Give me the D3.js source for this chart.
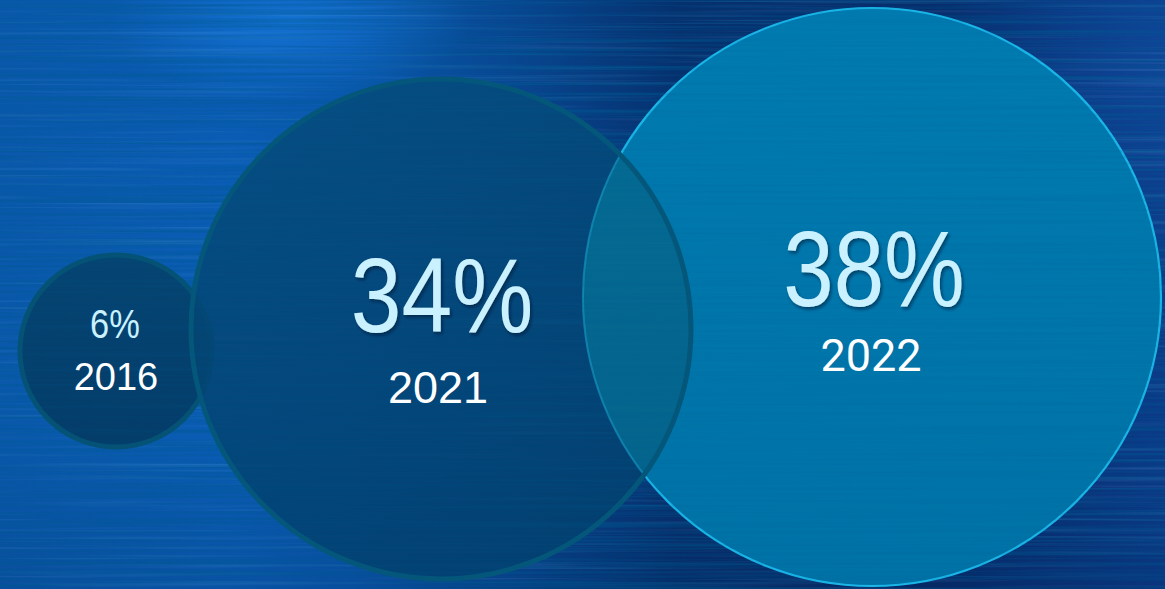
<!DOCTYPE html>
<html>
<head>
<meta charset="utf-8">
<script src="https://cdn.jsdelivr.net/npm/d3@7"></script>
<style>
  html, body { margin: 0; padding: 0; background: #0a4a98; overflow: hidden; }
  svg { display: block; }
</style>
</head>
<body>
<svg id="chart" width="1165" height="589"></svg>
<script>
// Share by year
const years = [2016, 2021, 2022];
const shares = [6, 34, 38];
const valueLabels = ["6%", "34%", "38%"];
const yearLabels = ["2016", "2021", "2022"];

const W = 1165, H = 589;
const svg = d3.select("#chart");
const defs = svg.append("defs");

// ---- scales ----
const rScale = d3.scaleLinear().domain([6, 34, 38]).range([96, 250, 289]);
const xScale = d3.scaleLinear().domain([2016, 2021, 2022]).range([116, 441, 872]);
const yScale = d3.scaleLinear().domain([2016, 2021, 2022]).range([351, 329, 297]);
const valueFont = d3.scaleLinear().domain([6, 34, 38]).range([41, 106, 108]);

const bubbles = years.map((y, i) => ({
  year: y, share: shares[i], vlabel: valueLabels[i], ylabel: yearLabels[i],
  cx: xScale(y), cy: yScale(y), r: rScale(shares[i])
}));
const byYear = Object.fromEntries(bubbles.map(d => [d.year, d]));

// label layout, relative to bubble centre
const labelLayout = {
  2016: { vdx: -1, vdy: -13, vsx: 0.84, ydx: 0, ydy: 39, ysize: 38, yfont: "'Liberation Sans', Arial, sans-serif" },
  2021: { vdx: 1, vdy: 3, vsx: 0.86, ydx: -3, ydy: 74, ysize: 45, yfont: "'Liberation Sans', Arial, sans-serif" },
  2022: { vdx: 2, vdy: 9, vsx: 0.84, ydx: -1, ydy: 74, ysize: 45, yfont: "Roboto, 'Liberation Sans', sans-serif" }
};

// ---- background: brushed blue metal ----
const bg = defs.append("linearGradient").attr("id", "bgGrad")
  .attr("x1", 0).attr("y1", 0).attr("x2", 1).attr("y2", 0);
[[0, "#0a58ab"], [0.2, "#0a5cb4"], [0.3, "#0a57ad"], [0.45, "#08458e"],
 [0.58, "#06316f"], [0.8, "#072d6c"], [1, "#0b3b88"]]
  .forEach(([o, c]) => bg.append("stop").attr("offset", o).attr("stop-color", c));

const glow = defs.append("radialGradient").attr("id", "glow")
  .attr("gradientUnits", "userSpaceOnUse")
  .attr("cx", 290).attr("cy", 20).attr("r", 180)
  .attr("gradientTransform", "translate(290,20) scale(1,0.45) translate(-290,-20)");
glow.append("stop").attr("offset", 0).attr("stop-color", "#1a80e6").attr("stop-opacity", 0.6);
glow.append("stop").attr("offset", 1).attr("stop-color", "#1a80e6").attr("stop-opacity", 0);

const glowR = defs.append("radialGradient").attr("id", "glowR")
  .attr("gradientUnits", "userSpaceOnUse")
  .attr("cx", 1165).attr("cy", 60).attr("r", 220);
glowR.append("stop").attr("offset", 0).attr("stop-color", "#1450a8").attr("stop-opacity", 0.5);
glowR.append("stop").attr("offset", 1).attr("stop-color", "#1450a8").attr("stop-opacity", 0);

const vshade = defs.append("linearGradient").attr("id", "vshade")
  .attr("x1", 0).attr("y1", 0).attr("x2", 0).attr("y2", 1);
vshade.append("stop").attr("offset", 0).attr("stop-color", "#000c30").attr("stop-opacity", 0);
vshade.append("stop").attr("offset", 0.75).attr("stop-color", "#000c30").attr("stop-opacity", 0);
vshade.append("stop").attr("offset", 1).attr("stop-color", "#000c30").attr("stop-opacity", 0.12);

// horizontal streak texture
function streakFilter(id, seed, freq, slope, intercept, color) {
  const f = defs.append("filter").attr("id", id)
    .attr("filterUnits", "userSpaceOnUse")
    .attr("x", 0).attr("y", 0).attr("width", W).attr("height", H);
  f.append("feTurbulence").attr("type", "fractalNoise")
    .attr("baseFrequency", freq).attr("numOctaves", 3).attr("seed", seed).attr("result", "n");
  const c = d3.color(color);
  f.append("feColorMatrix").attr("in", "n").attr("type", "matrix")
    .attr("values", `0 0 0 0 ${c.r / 255}  0 0 0 0 ${c.g / 255}  0 0 0 0 ${c.b / 255}  ${slope} 0 0 0 ${intercept}`);
}
streakFilter("streakDark", 7, "0.0025 0.32", 2.4, -1.0, "#001a48");
streakFilter("streakLight", 19, "0.003 0.28", 2.2, -1.15, "#2c7ee0");

svg.append("rect").attr("width", W).attr("height", H).attr("fill", "url(#bgGrad)");
svg.append("rect").attr("width", W).attr("height", H).attr("fill", "url(#glow)");
svg.append("rect").attr("width", W).attr("height", H).attr("fill", "url(#glowR)");
svg.append("rect").attr("width", W).attr("height", H).attr("fill", "url(#vshade)");
svg.append("rect").attr("width", W).attr("height", H).attr("filter", "url(#streakDark)").attr("opacity", 0.5);
svg.append("rect").attr("width", W).attr("height", H).attr("filter", "url(#streakLight)").attr("opacity", 0.2);

// ---- bubble fills ----
function vGrad(id, top, bottom) {
  const g = defs.append("linearGradient").attr("id", id)
    .attr("x1", 0).attr("y1", 0).attr("x2", 0).attr("y2", 1);
  g.append("stop").attr("offset", 0).attr("stop-color", top);
  g.append("stop").attr("offset", 1).attr("stop-color", bottom);
}
vGrad("fill2022", "#007bb0", "#0072a6");
vGrad("fill2021", "#054b7b", "#02406e");
vGrad("fill2016", "#05436f", "#043b66");
vGrad("fillOverlap", "#056c94", "#04628a");

const b16 = byYear[2016], b21 = byYear[2021], b22 = byYear[2022];

defs.append("clipPath").attr("id", "clip2021")
  .append("circle").attr("cx", b21.cx).attr("cy", b21.cy).attr("r", b21.r);
defs.append("clipPath").attr("id", "clip2022")
  .append("circle").attr("cx", b22.cx).attr("cy", b22.cy).attr("r", b22.r);

const g = svg.append("g");

// 2022 bubble
g.append("circle").attr("cx", b22.cx).attr("cy", b22.cy).attr("r", b22.r)
  .attr("fill", "url(#fill2022)").attr("stroke", "#1ab6e8").attr("stroke-width", 2.2);

// 2016 bubble
g.append("circle").attr("cx", b16.cx).attr("cy", b16.cy).attr("r", b16.r)
  .attr("fill", "url(#fill2016)").attr("fill-opacity", 0.95)
  .attr("stroke", "#055274").attr("stroke-width", 5);

// 2021 bubble (translucent, on top)
g.append("circle").attr("cx", b21.cx).attr("cy", b21.cy).attr("r", b21.r)
  .attr("fill", "url(#fill2021)").attr("fill-opacity", 0.86);

// where 2021 lies over 2022
g.append("g").attr("clip-path", "url(#clip2022)")
  .append("circle").attr("cx", b21.cx).attr("cy", b21.cy).attr("r", b21.r)
  .attr("fill", "url(#fillOverlap)");
g.append("g").attr("clip-path", "url(#clip2021)")
  .append("circle").attr("cx", b22.cx).attr("cy", b22.cy).attr("r", b22.r)
  .attr("fill", "none").attr("stroke", "#1aa0cc").attr("stroke-opacity", 0.55).attr("stroke-width", 2);

// 2021 outline
g.append("circle").attr("cx", b21.cx).attr("cy", b21.cy).attr("r", b21.r)
  .attr("fill", "none").attr("stroke", "#05577a").attr("stroke-width", 5);

// faint brushed texture across the bubbles
svg.append("rect").attr("width", W).attr("height", H)
  .attr("filter", "url(#streakDark)").attr("opacity", 0.15);

// ---- labels ----
const shadow = defs.append("filter").attr("id", "txtShadow")
  .attr("x", "-10%").attr("y", "-10%").attr("width", "130%").attr("height", "130%");
shadow.append("feDropShadow").attr("dx", 2).attr("dy", 2.5).attr("stdDeviation", 1.6)
  .attr("flood-color", "#001830").attr("flood-opacity", 0.55);

const labels = svg.append("g");
bubbles.forEach(d => {
  const L = labelLayout[d.year];
  labels.append("text")
    .attr("transform", `translate(${d.cx + L.vdx},${d.cy + L.vdy}) scale(${L.vsx},1)`)
    .attr("text-anchor", "middle")
    .attr("font-family", "'Liberation Sans', Arial, sans-serif")
    .attr("font-size", valueFont(d.share))
    .attr("fill", "#c9f1ff")
    .attr("filter", d.share > 10 ? "url(#txtShadow)" : null)
    .text(d.vlabel);
  labels.append("text")
    .attr("x", d.cx + L.ydx).attr("y", d.cy + L.ydy)
    .attr("text-anchor", "middle")
    .attr("font-family", L.yfont)
    .attr("font-size", L.ysize)
    .attr("fill", "#ffffff")
    .text(d.ylabel);
});
</script>
</body>
</html>
